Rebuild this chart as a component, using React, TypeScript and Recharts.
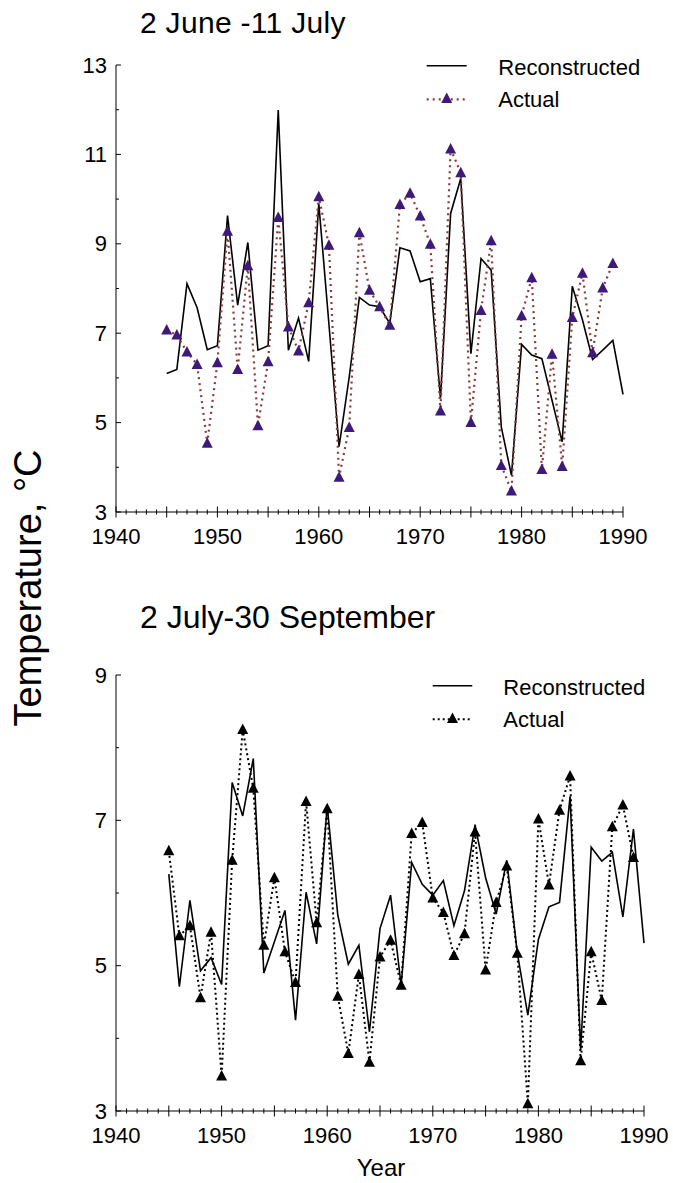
import { LineChart, Line, XAxis, YAxis, Legend } from "recharts";

const YEARS = [
  1945, 1946, 1947, 1948, 1949, 1950, 1951, 1952, 1953, 1954, 1955, 1956,
  1957, 1958, 1959, 1960, 1961, 1962, 1963, 1964, 1965, 1966, 1967, 1968,
  1969, 1970, 1971, 1972, 1973, 1974, 1975, 1976, 1977, 1978, 1979, 1980,
  1981, 1982, 1983, 1984, 1985, 1986, 1987, 1988, 1989, 1990,
];

// 2 June - 11 July
const JUNE_RECON = [
  6.1, 6.19, 8.11, 7.57, 6.63, 6.72, 9.63, 7.63, 9.03, 6.62, 6.72, 11.99,
  6.62, 7.34, 6.37, 9.9, 7.2, 4.46, 6.02, 7.8, 7.63, 7.59, 7.22, 8.91,
  8.84, 8.15, 8.22, 5.54, 9.68, 10.46, 6.54, 8.67, 8.41, 4.9, 3.82, 6.75,
  6.51, 6.43, 5.5, 4.57, 8.05, 7.3, 6.41, 6.62, 6.84, 5.63,
];
const JUNE_ACTUAL = [
  7.07, 6.96, 6.58, 6.3, 4.54, 6.34, 9.28, 6.19, 8.51, 4.93, 6.36, 9.59,
  7.14, 6.6, 7.68, 10.05, 8.97, 3.78, 4.89, 9.25, 7.96, 7.59, 7.18, 9.88,
  10.13, 9.62, 8.99, 5.26, 11.12, 10.59, 5.0, 7.51, 9.07, 4.04, 3.47, 7.39,
  8.24, 3.95, 6.53, 4.02, 7.35, 8.34, 6.56, 8.01, 8.56, null,
];

// 2 July - 30 September
const SEPT_RECON = [
  6.26, 4.71, 5.9, 4.93, 5.11, 4.74, 7.52, 7.06, 7.85, 4.9, 5.33, 5.76,
  4.25, 6.01, 5.3, 7.2, 5.7, 5.02, 5.28, 4.09, 5.51, 5.97, 4.73, 6.42,
  6.12, 5.97, 6.17, 5.55, 6.03, 6.94, 6.21, 5.71, 6.45, 5.18, 4.32, 5.36,
  5.81, 5.87, 7.33, 3.84, 6.63, 6.44, 6.56, 5.67, 6.88, 5.31,
];
const SEPT_ACTUAL = [
  6.58, 5.41, 5.55, 4.56, 5.46, 3.48, 6.45, 8.25, 7.44, 5.28, 6.21, 5.19,
  4.77, 7.26, 5.59, 7.16, 4.58, 3.79, 4.88, 3.67, 5.12, 5.35, 4.73, 6.82,
  6.97, 5.93, 5.73, 5.14, 5.44, 6.84, 4.94, 5.87, 6.37, 5.17, 3.1, 7.02,
  6.11, 7.14, 7.61, 3.69, 5.19, 4.52, 6.91, 7.21, 6.49, null,
];

const YEAR_TICKS = [
  1940, 1941, 1942, 1943, 1944, 1945, 1946, 1947, 1948, 1949, 1950, 1951,
  1952, 1953, 1954, 1955, 1956, 1957, 1958, 1959, 1960, 1961, 1962, 1963,
  1964, 1965, 1966, 1967, 1968, 1969, 1970, 1971, 1972, 1973, 1974, 1975,
  1976, 1977, 1978, 1979, 1980, 1981, 1982, 1983, 1984, 1985, 1986, 1987,
  1988, 1989, 1990,
];
const YEAR_LABELS = [1940, 1950, 1960, 1970, 1980, 1990];
const JUNE_TEMP_TICKS = [3, 4, 5, 6, 7, 8, 9, 10, 11, 12, 13];
const SEPT_TEMP_TICKS = [3, 4, 5, 6, 7, 8, 9];
const TEMP_LABELS = [3, 5, 7, 9, 11, 13];

const FONT = "'Liberation Sans', Arial, Helvetica, sans-serif";
const PURPLE = "#3d1a7a";
const MAROON = "#8b3a3a";

const juneRows = YEARS.map((y, i) => ({
  year: y,
  recon: JUNE_RECON[i],
  actual: JUNE_ACTUAL[i],
}));
const septRows = YEARS.map((y, i) => ({
  year: y,
  recon: SEPT_RECON[i],
  actual: SEPT_ACTUAL[i],
}));

function YearTick({ x, y, payload }: any) {
  const v = payload.value as number;
  const major = v % 5 === 0;
  const len = major ? 5.5 : 2.5;
  return (
    <g>
      <line x1={x} x2={x} y1={y - len} y2={y + len} stroke="#000" strokeWidth={1} />
      {YEAR_LABELS.includes(v) && (
        <text x={x} y={y + 24} textAnchor="middle" dominantBaseline="central" fontSize={22} fill="#000" fontFamily={FONT}>
          {v}
        </text>
      )}
    </g>
  );
}

function TempTick({ x, y, payload }: any) {
  const v = payload.value as number;
  const labelled = TEMP_LABELS.includes(v);
  return (
    <g>
      <line x1={x} x2={x + (labelled ? 5 : 3)} y1={y} y2={y} stroke="#000" strokeWidth={1} />
      {labelled && (
        <text x={x - 9} y={y} textAnchor="end" dominantBaseline="central" fontSize={22} fill="#000" fontFamily={FONT}>
          {v}
        </text>
      )}
    </g>
  );
}

function Triangle({ cx, cy, fill }: any) {
  if (cx == null || cy == null) return null;
  return (
    <polygon
      points={`${cx},${cy - 6} ${cx - 5.5},${cy + 4.5} ${cx + 5.5},${cy + 4.5}`}
      fill={fill}
    />
  );
}

function LegendBox({ lineX1, lineX2, textX, dotColor, dash, markColor, dashWidth }: any) {
  return (
    <svg width={240} height={70} style={{ overflow: "visible", display: "block" }}>
      <line x1={lineX1} x2={lineX2} y1={15.7} y2={15.7} stroke="#000" strokeWidth={1.6} />
      <text x={textX} y={17} dominantBaseline="central" fontSize={22} fill="#000" fontFamily={FONT}>
        Reconstructed
      </text>
      <line x1={lineX1} x2={lineX2} y1={49.3} y2={49.3} stroke={dotColor} strokeWidth={dashWidth} strokeDasharray={dash} />
      <Triangle cx={(lineX1 + lineX2) / 2} cy={48.5} fill={markColor} />
      <text x={textX} y={49.3} dominantBaseline="central" fontSize={22} fill="#000" fontFamily={FONT}>
        Actual
      </text>
    </svg>
  );
}

export default function App() {
  return (
    <div
      style={{
        position: "absolute",
        left: 0,
        top: 0,
        width: 673,
        height: 1183,
        background: "#fff",
        fontFamily: FONT,
      }}
    >
      <div style={{ position: "absolute", left: 0, top: 0 }}>
        <LineChart width={673} height={560} data={juneRows} margin={{ top: 65, right: 50, bottom: 8, left: 0 }}>
          <XAxis
            dataKey="year"
            type="number"
            domain={[1940, 1990]}
            ticks={YEAR_TICKS}
            interval={0}
            height={40}
            tickSize={0}
            tickMargin={0}
            tickLine={false}
            axisLine={{ stroke: "#000", strokeWidth: 1 }}
            tick={<YearTick />}
          />
          <YAxis
            type="number"
            domain={[3, 13]}
            ticks={JUNE_TEMP_TICKS}
            interval={0}
            width={116}
            tickSize={0}
            tickMargin={0}
            tickLine={false}
            axisLine={{ stroke: "#000", strokeWidth: 1 }}
            tick={<TempTick />}
          />
          {/* vertical + center + middle keeps the legend out of the plot offset */}
          <Legend
            layout="vertical"
            verticalAlign="middle"
            align="center"
            wrapperStyle={{ top: 50, left: 420, width: 240, height: 70 }}
            content={() => (
              <LegendBox lineX1={6.7} lineX2={46.7} textX={78.3} dotColor={MAROON} dash="2 4" dashWidth={2.2} markColor={PURPLE} />
            )}
          />
          <Line
            dataKey="recon"
            type="linear"
            stroke="#000"
            strokeWidth={1.6}
            dot={false}
            isAnimationActive={false}
          />
          <Line
            dataKey="actual"
            type="linear"
            stroke={MAROON}
            strokeWidth={2.2}
            strokeDasharray="2 4"
            dot={<Triangle fill={PURPLE} />}
            activeDot={false}
            isAnimationActive={false}
          />
        </LineChart>
      </div>

      <div style={{ position: "absolute", left: 0, top: 600 }}>
        <LineChart width={673} height={560} data={septRows} margin={{ top: 75, right: 29, bottom: 9, left: 0 }}>
          <XAxis
            dataKey="year"
            type="number"
            domain={[1940, 1990]}
            ticks={YEAR_TICKS}
            interval={0}
            height={40}
            tickSize={0}
            tickMargin={0}
            tickLine={false}
            axisLine={{ stroke: "#000", strokeWidth: 1 }}
            tick={<YearTick />}
          />
          <YAxis
            type="number"
            domain={[3, 9]}
            ticks={SEPT_TEMP_TICKS}
            interval={0}
            width={116}
            tickSize={0}
            tickMargin={0}
            tickLine={false}
            axisLine={{ stroke: "#000", strokeWidth: 1 }}
            tick={<TempTick />}
          />
          <Legend
            layout="vertical"
            verticalAlign="middle"
            align="center"
            wrapperStyle={{ top: 70, left: 425, width: 240, height: 70 }}
            content={() => (
              <LegendBox lineX1={7.7} lineX2={47.3} textX={78.3} dotColor="#000" dash="2 3" dashWidth={2} markColor="#000" />
            )}
          />
          <Line
            dataKey="recon"
            type="linear"
            stroke="#000"
            strokeWidth={1.6}
            dot={false}
            isAnimationActive={false}
          />
          <Line
            dataKey="actual"
            type="linear"
            stroke="#000"
            strokeWidth={2}
            strokeDasharray="2 3"
            dot={<Triangle fill="#000" />}
            activeDot={false}
            isAnimationActive={false}
          />
        </LineChart>
      </div>

      <svg width={673} height={1183} style={{ position: "absolute", left: 0, top: 0, pointerEvents: "none" }}>
        <text x={140} y={22} dominantBaseline="central" fontSize={30} letterSpacing={0.3} fill="#000" fontFamily={FONT}>
          2 June -11 July
        </text>
        <text x={140} y={617} dominantBaseline="central" fontSize={32} fill="#000" fontFamily={FONT}>
          2 July-30 September
        </text>
        <text
          x={28}
          y={588}
          transform="rotate(-90 28 588)"
          textAnchor="middle"
          dominantBaseline="central"
          fontSize={38}
          fill="#000"
          fontFamily={FONT}
        >
          Temperature, °C
        </text>
        <text x={381} y={1167} textAnchor="middle" dominantBaseline="central" fontSize={24} fill="#000" fontFamily={FONT}>
          Year
        </text>
      </svg>
    </div>
  );
}
